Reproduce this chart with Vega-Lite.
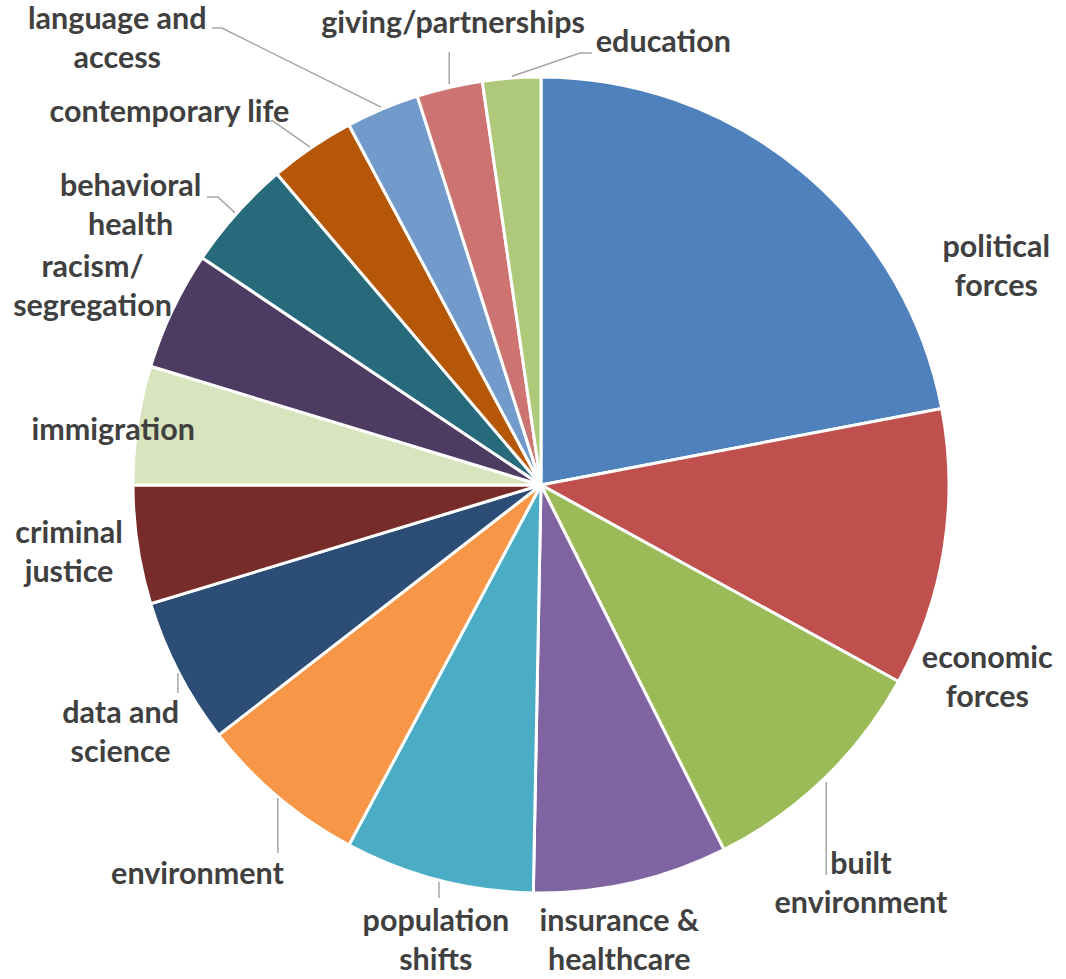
{
  "$schema": "https://vega.github.io/schema/vega-lite/v6.json",
  "width": 1050,
  "height": 970,
  "autosize": "none",
  "padding": {"left": 16, "top": 0, "right": 0, "bottom": 9},
  "background": "white",
  "config": {"view": {"stroke": null}},
  "datasets": {
    "slices": [
      {"i": 1, "topic": "political forces", "share": 22.0},
      {"i": 2, "topic": "economic forces", "share": 11.0},
      {"i": 3, "topic": "built environment", "share": 9.6},
      {"i": 4, "topic": "insurance & healthcare", "share": 7.7},
      {"i": 5, "topic": "population shifts", "share": 7.5},
      {"i": 6, "topic": "environment", "share": 6.7},
      {"i": 7, "topic": "data and science", "share": 5.8},
      {"i": 8, "topic": "criminal justice", "share": 4.7},
      {"i": 9, "topic": "immigration", "share": 4.7},
      {"i": 10, "topic": "racism/segregation", "share": 4.7},
      {"i": 11, "topic": "behavioral health", "share": 4.4},
      {"i": 12, "topic": "contemporary life", "share": 3.4},
      {"i": 13, "topic": "language and access", "share": 2.9},
      {"i": 14, "topic": "giving/partnerships", "share": 2.6},
      {"i": 15, "topic": "education", "share": 2.3}
    ],
    "labels": [
      {"topic": "political forces", "label": "political\nforces", "a": 17.9, "d": 1.237},
      {"topic": "economic forces", "label": "economic\nforces", "a": 31.5, "d": 1.192},
      {"topic": "built environment", "label": "built\nenvironment", "a": 39.25, "d": 1.254},
      {"topic": "insurance & healthcare", "label": "insurance &\nhealthcare", "a": 47.3, "d": 1.136},
      {"topic": "population shifts", "label": "population\nshifts", "a": 53.6, "d": 1.149},
      {"topic": "environment", "label": "environment", "a": 61.5, "d": 1.273},
      {"topic": "data and science", "label": "data and\nscience", "a": 66.5, "d": 1.197},
      {"topic": "criminal justice", "label": "criminal\njustice", "a": 72.7, "d": 1.169},
      {"topic": "immigration", "label": "immigration", "a": 77.0, "d": 1.057},
      {"topic": "racism/segregation", "label": "racism/\nsegregation", "a": 81.6, "d": 1.201},
      {"topic": "behavioral health", "label": "behavioral\nhealth", "a": 84.5, "d": 1.216},
      {"topic": "contemporary life", "label": "contemporary life", "a": 87.5, "d": 1.288},
      {"topic": "language and access", "label": "language and\naccess", "a": 87.9, "d": 1.507},
      {"topic": "giving/partnerships", "label": "giving/partnerships", "a": 97.0, "d": 1.151},
      {"topic": "education", "label": "education", "a": 4.3, "d": 1.124}
    ],
    "leaders": [
      {"topic": "language and access", "k": 1, "u": -0.392, "v": 0.926},
      {"topic": "language and access", "k": 2, "u": -0.782, "v": 1.120},
      {"topic": "language and access", "k": 3, "u": -0.806, "v": 1.120},
      {"topic": "giving/partnerships", "k": 1, "u": -0.225, "v": 0.983},
      {"topic": "giving/partnerships", "k": 2, "u": -0.225, "v": 1.061},
      {"topic": "education", "k": 1, "u": -0.071, "v": 1.002},
      {"topic": "education", "k": 2, "u": 0.096, "v": 1.059},
      {"topic": "education", "k": 3, "u": 0.125, "v": 1.059},
      {"topic": "contemporary life", "k": 1, "u": -0.566, "v": 0.828},
      {"topic": "contemporary life", "k": 2, "u": -0.657, "v": 0.892},
      {"topic": "contemporary life", "k": 3, "u": -0.676, "v": 0.892},
      {"topic": "behavioral health", "k": 1, "u": -0.750, "v": 0.667},
      {"topic": "behavioral health", "k": 2, "u": -0.792, "v": 0.706},
      {"topic": "behavioral health", "k": 3, "u": -0.819, "v": 0.706},
      {"topic": "data and science", "k": 1, "u": -0.890, "v": -0.461},
      {"topic": "data and science", "k": 2, "u": -0.890, "v": -0.510},
      {"topic": "environment", "k": 1, "u": -0.645, "v": -0.767},
      {"topic": "environment", "k": 2, "u": -0.645, "v": -0.902},
      {"topic": "population shifts", "k": 1, "u": -0.250, "v": -0.973},
      {"topic": "population shifts", "k": 2, "u": -0.250, "v": -1.012},
      {"topic": "built environment", "k": 1, "u": 0.699, "v": -0.728},
      {"topic": "built environment", "k": 2, "u": 0.699, "v": -0.956}
    ]
  },
  "layer": [
    {
      "data": {"name": "slices"},
      "mark": {"type": "arc", "radius": 408, "stroke": "white", "strokeWidth": 3},
      "encoding": {
        "theta": {"field": "share", "type": "quantitative", "stack": true, "scale": {"domain": [0, 100]}},
        "order": {"field": "i", "type": "quantitative"},
        "color": {
          "field": "topic",
          "type": "nominal",
          "sort": null,
          "legend": null,
          "scale": {
            "domain": ["political forces", "economic forces", "built environment", "insurance & healthcare", "population shifts", "environment", "data and science", "criminal justice", "immigration", "racism/segregation", "behavioral health", "contemporary life", "language and access", "giving/partnerships", "education"],
            "range": ["#4F81BD", "#C0504D", "#9BBB59", "#8064A2", "#4BACC6", "#F79646", "#2C4D75", "#772C2A", "#D7E4BD", "#4D3B62", "#276A7C", "#B65708", "#729ACA", "#CD7371", "#AFC97A"]
          }
        }
      }
    },
    {
      "data": {"name": "leaders"},
      "mark": {"type": "line", "color": "#A6A6A6", "strokeWidth": 1.5},
      "encoding": {
        "x": {"field": "u", "type": "quantitative", "axis": null, "scale": {"domain": [-1.2868, 1.2868], "nice": false, "zero": false}},
        "y": {"field": "v", "type": "quantitative", "axis": null, "scale": {"domain": [-1.1887, 1.1887], "nice": false, "zero": false}},
        "detail": {"field": "topic", "type": "nominal"},
        "order": {"field": "k", "type": "quantitative"}
      }
    },
    {
      "data": {"name": "labels"},
      "transform": [{"filter": "indexof(datum.label, '\\n') < 0"}],
      "mark": {"type": "text", "font": "Lato", "fontWeight": "bold", "fontSize": 30.5, "color": "#404040", "align": "center", "baseline": "middle", "lineBreak": "\n", "lineHeight": 39},
      "encoding": {
        "theta": {"field": "a", "type": "quantitative", "stack": false},
        "radius": {"field": "d", "type": "quantitative", "scale": {"type": "linear", "domain": [0, 1], "range": [0, 408], "zero": true}},
        "text": {"field": "label", "type": "nominal"}
      }
    },
    {
      "data": {"name": "labels"},
      "transform": [{"filter": "indexof(datum.label, '\\n') >= 0"}],
      "mark": {"type": "text", "font": "Lato", "fontWeight": "bold", "fontSize": 30.5, "color": "#404040", "align": "center", "baseline": "middle", "lineBreak": "\n", "lineHeight": 39, "dy": -19.5},
      "encoding": {
        "theta": {"field": "a", "type": "quantitative", "stack": false},
        "radius": {"field": "d", "type": "quantitative"},
        "text": {"field": "label", "type": "nominal"}
      }
    }
  ]
}
